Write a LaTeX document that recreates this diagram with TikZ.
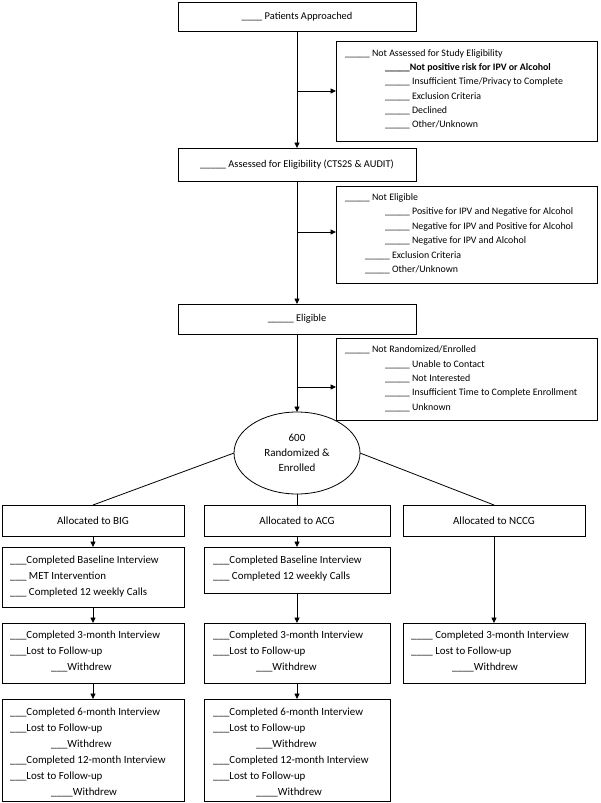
\documentclass[tikz,border=0pt]{standalone}
\usepackage{fontspec}
\setmainfont{Carlito}
\usetikzlibrary{arrows.meta,shapes.geometric}
\tikzset{
  box/.style={draw, line width=0.8pt, inner sep=0pt, outer sep=0pt},
  arr/.style={line width=0.8pt, -{Triangle[length=5.5pt,width=5pt]}},
  conn/.style={line width=0.8pt},
  sidetxt/.style={anchor=base west, inner sep=0pt, font=\fontsize{9.9}{11}\selectfont},
  lowtxt/.style={anchor=base west, inner sep=0pt, font=\fontsize{10.9}{12}\selectfont},
  midfont/.style={font=\fontsize{10.4}{12}\selectfont},
  allocfont/.style={font=\fontsize{11}{12}\selectfont},
}
\begin{document}
\begin{tikzpicture}[x=1pt,y=-1pt]
\useasboundingbox (0,0) rectangle (600,803);
\fill[white] (0,0) rectangle (600,803);

% main column
\node[box, midfont, minimum width=238, minimum height=29] (pa) at (297,16.5) {\_\_\_\_ Patients Approached};
\node[box, midfont, minimum width=238, minimum height=33] (ae) at (297,164.5) {\_\_\_\_\_ Assessed for Eligibility (CTS2S \& AUDIT)};
\node[box, midfont, minimum width=238, minimum height=30] (el) at (297,319) {\_\_\_\_\_ Eligible};
\node[box, ellipse, minimum width=126, minimum height=82, align=center,
      font=\fontsize{11}{15}\selectfont] (ell) at (297,453) {600\\Randomized \&\\Enrolled};

% side boxes
\node[box, minimum width=261, minimum height=100] (s1) at (466.5,91) {};
\node[sidetxt] (s1a) at (345,56) {\_\_\_\_\_ Not Assessed for Study Eligibility};
\node[sidetxt] (s1b) at (385,70) {\bfseries \_\_\_\_\_Not positive risk for IPV or Alcohol};
\node[sidetxt] (s1c) at (385,84.5) {\_\_\_\_\_ Insufficient Time/Privacy to Complete};
\node[sidetxt] (s1d) at (385,99) {\_\_\_\_\_ Exclusion Criteria};
\node[sidetxt] (s1e) at (385,113) {\_\_\_\_\_ Declined};
\node[sidetxt] (s1f) at (385,127.5) {\_\_\_\_\_ Other/Unknown};

\node[box, minimum width=261, minimum height=97] (s2) at (466.5,234.5) {};
\node[sidetxt] (s2a) at (345,200) {\_\_\_\_\_ Not Eligible};
\node[sidetxt] (s2b) at (385,214.5) {\_\_\_\_\_ Positive for IPV and Negative for Alcohol};
\node[sidetxt] (s2c) at (385,229) {\_\_\_\_\_ Negative for IPV and Positive for Alcohol};
\node[sidetxt] (s2d) at (385,243.5) {\_\_\_\_\_ Negative for IPV and Alcohol};
\node[sidetxt] (s2e) at (365,258) {\_\_\_\_\_ Exclusion Criteria};
\node[sidetxt] (s2f) at (365,272.5) {\_\_\_\_\_ Other/Unknown};

\node[box, minimum width=261, minimum height=82] (s3) at (466.5,379) {};
\node[sidetxt] (s3a) at (345,352) {\_\_\_\_\_ Not Randomized/Enrolled};
\node[sidetxt] (s3b) at (385,367) {\_\_\_\_\_ Unable to Contact};
\node[sidetxt] (s3c) at (385,381.5) {\_\_\_\_\_ Not Interested};
\node[sidetxt] (s3d) at (385,395.5) {\_\_\_\_\_ Insufficient Time to Complete Enrollment};
\node[sidetxt] (s3e) at (385,410) {\_\_\_\_\_ Unknown};

% allocation boxes
\node[box, allocfont, minimum width=182, minimum height=31] (big) at (93,520.5) {Allocated to BIG};
\node[box, allocfont, minimum width=186, minimum height=31] (acg) at (297,520.5) {Allocated to ACG};
\node[box, allocfont, minimum width=182, minimum height=31] (nccg) at (494,520.5) {Allocated to NCCG};

% baseline boxes
\node[box, minimum width=182, minimum height=60] (bigb) at (93,577) {};
\node[lowtxt] (bigb1) at (10,563.5) {\_\_\_Completed Baseline Interview};
\node[lowtxt] (bigb2) at (10,579.5) {\_\_\_ MET Intervention};
\node[lowtxt] (bigb3) at (10,595) {\_\_\_ Completed 12 weekly Calls};

\node[box, minimum width=186, minimum height=46] (acgb) at (297,570) {};
\node[lowtxt] (acgb1) at (213,563.5) {\_\_\_Completed Baseline Interview};
\node[lowtxt] (acgb2) at (213,579.5) {\_\_\_ Completed 12 weekly Calls};

% 3-month boxes
\node[box, minimum width=182, minimum height=60] (big3) at (93,653) {};
\node[lowtxt] (big31) at (10,638.5) {\_\_\_Completed 3-month Interview};
\node[lowtxt] (big32) at (10,654.5) {\_\_\_Lost to Follow-up};
\node[lowtxt] (big33) at (51,670.5) {\_\_\_Withdrew};

\node[box, minimum width=186, minimum height=60] (acg3) at (297,653) {};
\node[lowtxt] (acg31) at (213,638.5) {\_\_\_Completed 3-month Interview};
\node[lowtxt] (acg32) at (213,654.5) {\_\_\_Lost to Follow-up};
\node[lowtxt] (acg33) at (256,670.5) {\_\_\_Withdrew};

\node[box, minimum width=182, minimum height=60] (nccg3) at (494,653) {};
\node[lowtxt] (nc31) at (411,638.5) {\_\_\_\_ Completed 3-month Interview};
\node[lowtxt] (nc32) at (411,654.5) {\_\_\_\_ Lost to Follow-up};
\node[lowtxt] (nc33) at (452,670.5) {\_\_\_\_Withdrew};

% 6/12-month boxes
\node[box, minimum width=182, minimum height=102] (big6) at (93,750) {};
\node[lowtxt] (big61) at (10,715.5) {\_\_\_Completed 6-month Interview};
\node[lowtxt] (big62) at (10,731.5) {\_\_\_Lost to Follow-up};
\node[lowtxt] (big63) at (51,747) {\_\_\_Withdrew};
\node[lowtxt] (big64) at (10,763.5) {\_\_\_Completed 12-month Interview};
\node[lowtxt] (big65) at (10,779.5) {\_\_\_Lost to Follow-up};
\node[lowtxt] (big66) at (51,795.5) {\_\_\_\_Withdrew};

\node[box, minimum width=186, minimum height=102] (acg6) at (297,750) {};
\node[lowtxt] (acg61) at (213,715.5) {\_\_\_Completed 6-month Interview};
\node[lowtxt] (acg62) at (213,731.5) {\_\_\_Lost to Follow-up};
\node[lowtxt] (acg63) at (256,747) {\_\_\_Withdrew};
\node[lowtxt] (acg64) at (213,763.5) {\_\_\_Completed 12-month Interview};
\node[lowtxt] (acg65) at (213,779.5) {\_\_\_Lost to Follow-up};
\node[lowtxt] (acg66) at (256,795.5) {\_\_\_\_Withdrew};

% connectors
\coordinate (b1) at (297,91);
\coordinate (b2) at (297,232);
\coordinate (b3) at (297,387);
\draw[arr] (pa.south) -- (ae.north);
\draw[arr] (b1) -- (s1.west |- b1);
\draw[arr] (ae.south) -- (el.north);
\draw[arr] (b2) -- (s2.west |- b2);
\draw[arr] (el.south) -- (ell.north);
\draw[arr] (b3) -- (s3.west |- b3);

\draw[conn] (ell.west) -- (big.north);
\draw[conn] (ell.south) -- (acg.north);
\draw[conn] (ell.east) -- (nccg.north);

\draw[arr] (big.south) -- (bigb.north);
\draw[arr] (acg.south) -- (acgb.north);
\draw[arr] (nccg.south) -- (nccg3.north);
\draw[arr] (bigb.south) -- (big3.north);
\draw[arr] (acgb.south) -- (acg3.north);
\draw[arr] (big3.south) -- (big6.north);
\draw[arr] (acg3.south) -- (acg6.north);
\end{tikzpicture}
\end{document}
